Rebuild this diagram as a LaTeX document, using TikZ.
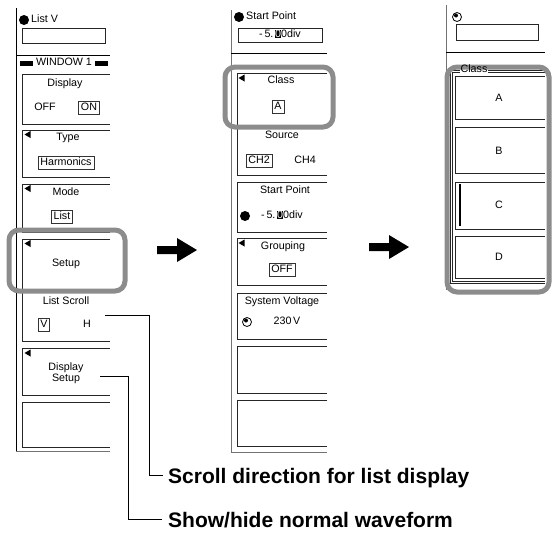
\documentclass[tikz,border=0pt]{standalone}
\usepackage{fontspec}
\setmainfont{Liberation Sans}
\begin{document}
\begin{tikzpicture}[x=1pt,y=-1pt,
  ui/.style={font=\fontsize{10.7}{12.5}\selectfont, inner sep=0pt, text height=7.6pt, text depth=2pt},
  val/.style={ui, draw=black!80, line width=0.6pt, inner xsep=2.3pt, inner ysep=1.8pt},
  boxline/.style={draw=black!85, line width=0.7pt},
  panelline/.style={draw=black!55, line width=1pt},
  headline/.style={draw=black, line width=1pt},
  hl/.style={draw=black!45, line width=5pt, rounded corners=10pt},
  lab/.style={font=\fontsize{21}{25}\selectfont\bfseries, anchor=base west, inner sep=0pt},
  conn/.style={draw=black, line width=0.8pt},
  tri/.pic={\fill (-2.5,0) -- (3.5,-3.5) -- (3.5,3.5) -- cycle;},
  knob/.pic={\draw[line width=0.8pt] (0,0) circle (4.5); \fill (-1,-1.5) circle (2);},
]
\useasboundingbox (0,0) rectangle (552,533);

% ---------------- left panel ----------------
\draw[black, line width=0.9pt] (16,8) -- (16,451);
\draw[panelline] (16,451) -- (110,451);
\fill (24,20) circle (5);
\node[ui, anchor=west] (listv) at (31,20) {List V};
\draw[boxline] (22,28) rectangle (105,43);
\draw[headline] (16,55) -- (110,55);
\fill (20,60.5) rectangle (33,66);
\node[ui] (win) at (64,63) {WINDOW 1};
\fill (95,60.5) rectangle (108,66);

\draw[boxline] (110,74) -- (22,74) -- (22,124) -- (110,124);
\node[ui] (disp) at (65,84) {Display};
\node[ui] (off) at (45,108) {OFF};
\node[val] (on) at (89,108) {ON};

\draw[boxline] (110,130) -- (22,130) -- (22,177) -- (110,177);
\pic at (27,134.5) {tri};
\node[ui] (type) at (68,138) {Type};
\node[val] (harm) at (66,163) {Harmonics};

\draw[boxline] (110,184) -- (22,184) -- (22,232) -- (110,232);
\pic at (27,188.5) {tri};
\node[ui] (mode) at (66,193) {Mode};
\node[val] (list) at (62,217) {List};

\draw[boxline] (110,239) -- (22,239) -- (22,290) -- (110,290);
\pic at (27,243.5) {tri};
\node[ui] (setup) at (66,264) {Setup};

\draw[boxline] (110,292) -- (22,292) -- (22,341) -- (110,341);
\node[ui] (lscroll) at (66,302) {List Scroll};
\node[val, inner xsep=2pt, inner ysep=1.5pt] (vv) at (44,325) {V};
\node[ui] (hh) at (87,325) {H};

\draw[boxline] (110,348) -- (22,348) -- (22,395) -- (110,395);
\pic at (27,353) {tri};
\node[ui] (dsetup) at (66,373.5) {\begin{tabular}{@{}c@{}}Display\\[-1.5pt]Setup\end{tabular}};

\draw[boxline] (110,402) -- (22,402) -- (22,447) -- (110,447);

\draw[hl] (9,230) rectangle (125,291);

% ---------------- arrows ----------------
\fill (157,246) -- (177,246) -- (177,238) -- (197,250) -- (177,262) -- (177,254) -- (157,254) -- cycle;
\fill (369,243) -- (389,243) -- (389,235) -- (409,247) -- (389,259) -- (389,251) -- (369,251) -- cycle;

% ---------------- middle panel ----------------
\draw[panelline] (231,10) -- (231,452) -- (327,452);
\fill (239,17) circle (5);
\node[ui, anchor=west] (sp0) at (246,17) {Start Point};
\draw[boxline] (238,28) rectangle (322,42);
\node[ui] (spv0) at (280,35) {-\,5.\,{\fboxsep=0pt\colorbox{black}{\textcolor{white}{0}}}0div};
\draw[headline] (231,53) -- (327,53);

\draw[boxline] (327,73) -- (237,73) -- (237,126) -- (327,126);
\pic at (241,78) {tri};
\node[ui] (class) at (281,81) {Class};
\node[val, inner xsep=2.5pt, inner ysep=1.5pt] (ca) at (278,107) {A};

\draw[boxline] (327,128) -- (237,128) -- (237,175) -- (327,175);
\node[ui] (src) at (282,136) {Source};
\node[val] (ch2) at (259,161) {CH2};
\node[ui] (ch4) at (305,161) {CH4};

\draw[boxline] (327,182) -- (237,182) -- (237,232) -- (327,232);
\node[ui] (sp) at (285,191) {Start Point};
\fill (245,216) circle (5);
\node[ui] (spv) at (282,216) {-\,5.\,{\fboxsep=0pt\colorbox{black}{\textcolor{white}{0}}}0div};

\draw[boxline] (327,238) -- (237,238) -- (237,285) -- (327,285);
\pic at (241,243) {tri};
\node[ui] (grp) at (283,247) {Grouping};
\node[val] (goff) at (282,270) {OFF};

\draw[boxline] (327,293) -- (237,293) -- (237,339) -- (327,339);
\node[ui] (sysv) at (282,302) {System Voltage};
\pic at (247,322) {knob};
\node[ui] (v230) at (287,322) {230\,V};

\draw[boxline] (327,346) -- (237,346) -- (237,393) -- (327,393);
\draw[boxline] (327,400) -- (237,400) -- (237,446) -- (327,446);

\draw[hl] (225,67) rectangle (333,127);

% ---------------- right panel ----------------
\draw[panelline] (446,5) -- (446,290);
\pic at (457,17) {knob};
\draw[boxline] (456,24) rectangle (538,40);
\draw[headline] (446,52) -- (545,52);

\draw[boxline] (545,70.5) -- (450.5,70.5) -- (450.5,283.5) -- (545,283.5);
\draw[boxline] (545,72.5) -- (452.5,72.5) -- (452.5,281.5) -- (545,281.5);
\node[ui, fill=white, inner xsep=1pt] (classbg) at (474,70) {\phantom{Class}};

\draw[boxline] (545,76) -- (455,76) -- (455,119) -- (545,119);
\node[ui] (ra) at (499,99) {A};
\draw[boxline] (545,127) -- (455,127) -- (455,173) -- (545,173);
\node[ui] (rb) at (499,152) {B};
\draw[boxline] (545,182) -- (455,182) -- (455,229) -- (545,229);
\draw[black, line width=2pt] (460,184) -- (460,226);
\node[ui] (rc) at (499,206) {C};
\draw[boxline] (545,236) -- (455,236) -- (455,278) -- (545,278);
\node[ui] (rd) at (499,258) {D};

\draw[hl] (447,67) rectangle (549,292);
\node[ui] (classlbl) at (474,70) {Class};

% ---------------- callouts ----------------
\node[lab] (lab1) at (168,483) {Scroll direction for list display};
\node[lab] (lab2) at (168,527) {Show/hide normal waveform};
\coordinate (c1) at (105,315);
\coordinate (c2) at (100,376);
\draw[conn] (c1) -- ++(44,0) |- ([xshift=-5pt,yshift=7.5pt]lab1.base west);
\draw[conn] (c2) -- ++(28,0) |- ([xshift=-6pt,yshift=7.5pt]lab2.base west);
\end{tikzpicture}
\end{document}
